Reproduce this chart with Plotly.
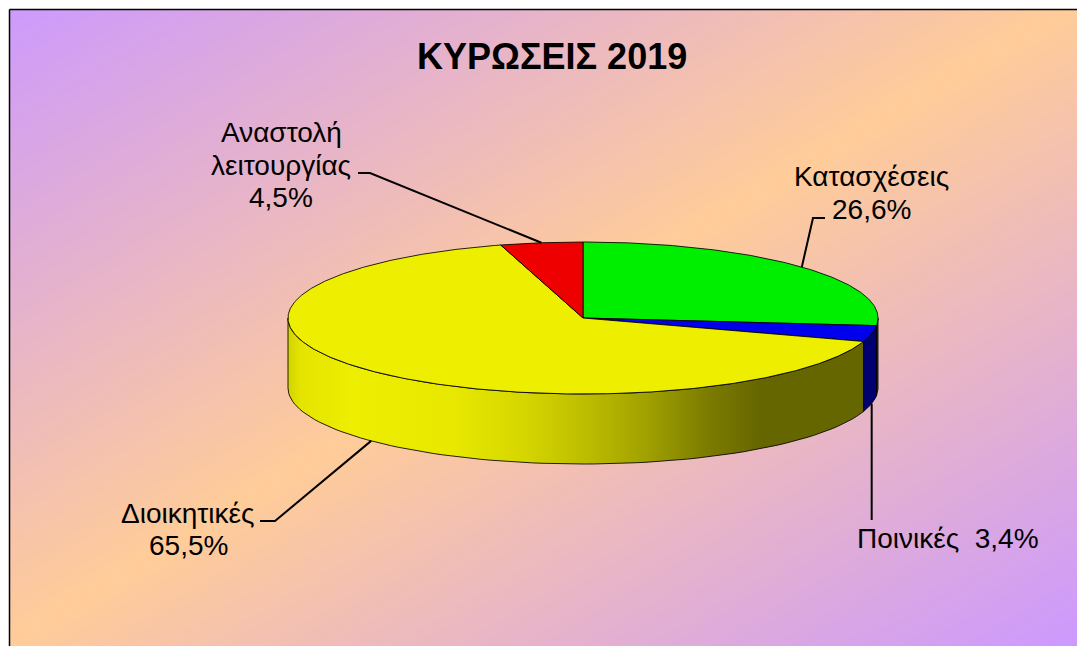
import numpy as np
import plotly.graph_objects as go

# ---------------- data ----------------
title_text = "ΚΥΡΩΣΕΙΣ 2019"
categories = ["Κατασχέσεις", "Ποινικές", "Διοικητικές", "Αναστολή λειτουργίας"]
values = [26.6, 3.4, 65.5, 4.5]

# ---------------- styling ----------------
top_colors = ["#00EE00", "#0000EE", "#EEEE00", "#EE0000"]
side_scales = [
    [[0, "#0A4A0A"], [1, "#0A4A0A"]],
    [[0, "#000070"], [1, "#000070"]],
    [[0.00, "#D2D200"], [0.02, "#E4E400"], [0.11, "#EEEE00"], [0.28, "#E8E800"],
     [0.40, "#D6D600"], [0.50, "#BEBE00"], [0.61, "#A0A000"], [0.71, "#7C7C00"],
     [0.80, "#666600"], [1.00, "#666600"]],
    [[0, "#700000"], [1, "#700000"]],
]
W, H = 1077, 646
CX, CY, RX, RY, DEPTH = 583, 318, 295, 76, 70
FONT = "Liberation Sans, Arial, sans-serif"
LABEL_SIZE = 28

# label layout: how the label's text is split into lines, line centres, leader path
label_layout = [
    dict(split=[["Κατασχέσεις"], ["VAL"]], x=871, ys=[176, 209],
         path=[(813, 218), (825, 218)]),
    dict(split=[["Ποινικές", "  ", "VAL"]], x=948, ys=[538],
         path=[(None, 520)]),
    dict(split=[["Διοικητικές"], ["VAL"]], x=188, ys=[513, 545],
         path=[(275, 521), (260, 521)]),
    dict(split=[["Αναστολή"], ["λειτουργίας"], ["VAL"]], x=281, ys=[132, 165, 197],
         path=[(370, 173), (358, 173)]),
]


def pt(theta_deg, dy=0.0):
    t = np.radians(theta_deg)
    return CX + RX * np.sin(t), CY - RY * np.cos(t) + dy


fig = go.Figure()

# background gradient
gx = np.linspace(0, W, 60)
gy = np.linspace(0, H, 40)
GX, GY = np.meshgrid(gx, gy)
fig.add_trace(go.Heatmap(
    x=gx, y=gy, z=GX / W + GY / H, zmin=0, zmax=2, zsmooth="best",
    colorscale=[[0, "#CC99FF"], [0.5, "#FFCC99"], [1, "#CC99FF"]],
    showscale=False, hoverinfo="skip"))

total = sum(values)
angles = np.concatenate([[0], np.cumsum(values) / total * 360.0])

# sides (front half only, 90..270 degrees)
for i, v in enumerate(values):
    a1, a2 = angles[i], angles[i + 1]
    s1, s2 = max(a1, 90), min(a2, 270)
    if s2 <= s1:
        continue
    th = np.linspace(s1, s2, 80)
    tx, ty = pt(th)
    bx, by = pt(th[::-1], DEPTH)
    xs = np.concatenate([tx, bx, tx[:1]])
    ys = np.concatenate([ty, by, ty[:1]])
    fig.add_trace(go.Scatter(
        x=xs, y=ys, mode="lines", fill="toself",
        fillgradient=dict(type="horizontal", colorscale=side_scales[i],
                          start=CX - RX, stop=CX + RX),
        line=dict(color="rgba(0,0,0,0.85)", width=1),
        hoverinfo="skip", showlegend=False))

# top faces
for i, v in enumerate(values):
    a1, a2 = angles[i], angles[i + 1]
    th = np.linspace(a1, a2, max(int((a2 - a1) * 2), 6))
    ax, ay = pt(th)
    xs = np.concatenate([[CX], ax, [CX]])
    ys = np.concatenate([[CY], ay, [CY]])
    fig.add_trace(go.Scatter(
        x=xs, y=ys, mode="lines", fill="toself", fillcolor=top_colors[i],
        line=dict(color="rgba(0,0,0,0.85)", width=1),
        hoverinfo="skip", showlegend=False))

# labels and leader lines
for i, v in enumerate(values):
    mid = (angles[i] + angles[i + 1]) / 2
    dy = DEPTH if 90 < mid < 270 else 0
    axp, ayp = pt(mid, dy)
    lx, ly = [axp], [ayp]
    for px, py in label_layout[i]["path"]:
        lx.append(axp if px is None else px)
        ly.append(py)
    fig.add_trace(go.Scatter(x=lx, y=ly, mode="lines",
                             line=dict(color="black", width=2),
                             hoverinfo="skip", showlegend=False))
    val_txt = f"{v:.1f}%".replace(".", ",")
    for parts, yy in zip(label_layout[i]["split"], label_layout[i]["ys"]):
        txt = "".join(val_txt if p == "VAL" else p for p in parts)
        fig.add_annotation(x=label_layout[i]["x"], y=yy, xref="x", yref="y",
                           text=txt, showarrow=False,
                           xanchor="center", yanchor="middle",
                           font=dict(family=FONT, size=LABEL_SIZE, color="black"))

fig.add_annotation(x=552, y=56, xref="x", yref="y", text=f"<b>{title_text}</b>",
                   showarrow=False, xanchor="center", yanchor="middle",
                   font=dict(family=FONT, size=36, color="black"))

# white margin strips and chart border (left/top)
fig.add_shape(type="rect", x0=0, x1=9, y0=0, y1=H, xref="x", yref="y",
              fillcolor="white", line_width=0, layer="above")
fig.add_shape(type="rect", x0=0, x1=W, y0=0, y1=9, xref="x", yref="y",
              fillcolor="white", line_width=0, layer="above")
fig.add_shape(type="line", x0=9.5, x1=9.5, y0=9.5, y1=H, xref="x", yref="y",
              line=dict(color="black", width=1.5), layer="above")
fig.add_shape(type="line", x0=9.5, x1=W, y0=9.5, y1=9.5, xref="x", yref="y",
              line=dict(color="black", width=1.5), layer="above")

fig.update_layout(
    width=W, height=H, margin=dict(l=0, r=0, t=0, b=0),
    paper_bgcolor="white", plot_bgcolor="white", showlegend=False,
    xaxis=dict(range=[0, W], visible=False, fixedrange=True),
    yaxis=dict(range=[H, 0], visible=False, fixedrange=True),
)

fig.write_html("out.html", config={"displayModeBar": False},
               post_script="document.body.style.margin='0';"
                           "document.body.style.overflow='hidden';")
